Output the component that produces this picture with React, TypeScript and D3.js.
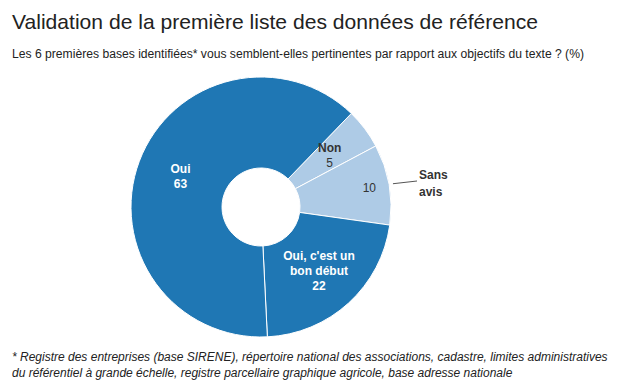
import React from "react";
import * as d3 from "d3";

const categories = ["Non", "Sans avis", "Oui, c'est un bon début", "Oui"];
const values = [5, 10, 22, 63];
const labelLines = [["Non"], ["Sans", "avis"], ["Oui, c'est un", "bon début"], ["Oui"]];
const colors = ["#aecbe6", "#aecbe6", "#1f77b4", "#1f77b4"];
const title = "Validation de la première liste des données de référence";
const subtitle = "Les 6 premières bases identifiées* vous semblent-elles pertinentes par rapport aux objectifs du texte ? (%)";
const footnote = [
  "* Registre des entreprises (base SIRENE), répertoire national des associations, cadastre, limites administratives",
  "du référentiel à grande échelle, registre parcellaire graphique agricole, base adresse nationale",
];

export default function App() {
  const W = 641, H = 387;
  const cx = 261, cy = 207, R = 130, r0 = 39;
  const start = (44 * Math.PI) / 180;
  const pie = d3.pie<number>().sort(null).value((d) => d).startAngle(start).endAngle(start + 2 * Math.PI);
  const arcs = pie(values);
  const arc = d3.arc<d3.PieArcDatum<number>>().innerRadius(r0).outerRadius(R);
  const font = "'Liberation Sans', Arial, Helvetica, sans-serif";
  const pt = (a: number, rad: number) => [Math.sin(a) * rad, -Math.cos(a) * rad];

  return (
    <svg width={W} height={H} style={{ position: "absolute", left: 0, top: 0, background: "#fff" }} fontFamily={font}>
      <text x={12} y={29} fontSize={21} fill="#222" textLength={526} lengthAdjust="spacingAndGlyphs">{title}</text>
      <text x={12} y={58} fontSize={12} fill="#222" textLength={572} lengthAdjust="spacingAndGlyphs">{subtitle}</text>
      <g transform={`translate(${cx},${cy})`}>
        {arcs.map((a, i) => (
          <path key={i} d={arc(a) || ""} fill={colors[i]} stroke="#fff" strokeWidth={1} />
        ))}
        {arcs.map((a, i) => {
          const mid = (a.startAngle + a.endAngle) / 2;
          const dark = colors[i] === "#1f77b4";
          const fill = dark ? "#fff" : "#333";
          if (i === 1) {
            const [x1, y1] = pt(mid, 110);
            const [lx1, ly1] = pt(mid, R + 4);
            return (
              <g key={i}>
                <text x={x1} y={y1 + 4} fontSize={12} fill="#333" textAnchor="middle">{values[i]}</text>
                <line x1={lx1} y1={ly1} x2={156} y2={-26} stroke="#555" strokeWidth={1} />
                {labelLines[i].map((l, j) => (
                  <text key={j} x={158} y={-28 + j * 17} fontSize={12} fontWeight="bold" fill="#333">{l}</text>
                ))}
              </g>
            );
          }
          const [x, y] = pt(mid, 86);
          const n = labelLines[i].length + 1;
          const lh = 15;
          const y0 = y - ((n - 1) * lh) / 2 + 4;
          return (
            <g key={i} textAnchor="middle" fontSize={12} fill={fill}>
              {labelLines[i].map((l, j) => (
                <text key={j} x={x} y={y0 + j * lh} fontWeight="bold">{l}</text>
              ))}
              <text x={x} y={y0 + (n - 1) * lh} fontWeight={dark ? "bold" : "normal"}>{values[i]}</text>
            </g>
          );
        })}
      </g>
      {footnote.map((l, j) => (
        <text key={j} x={12} y={361 + j * 16} fontSize={12} fontStyle="italic" fill="#222">{l}</text>
      ))}
    </svg>
  );
}
